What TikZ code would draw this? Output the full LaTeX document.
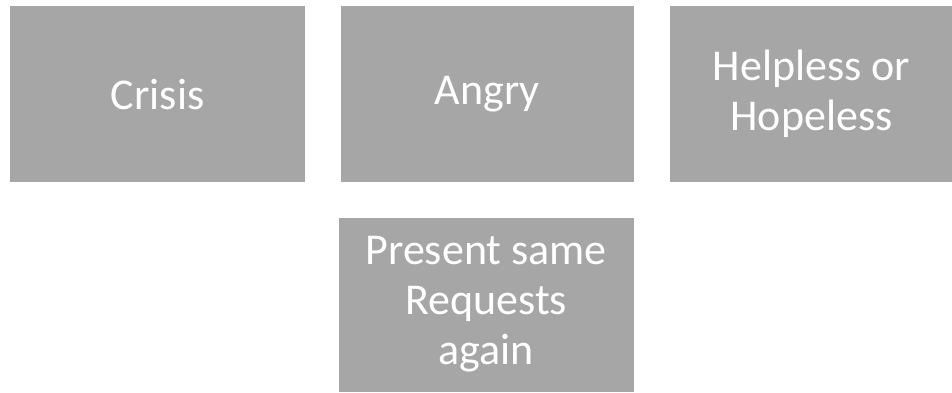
\documentclass[tikz,border=0pt]{standalone}
\usepackage{fontspec}
\setmainfont{Carlito}
\usetikzlibrary{positioning}

\begin{document}
\begin{tikzpicture}[x=1pt,y=1pt,
  card/.style={rectangle, fill=black!35, text=white, minimum width=295pt, minimum height=176pt, align=center, inner sep=0pt, font=\fontsize{44}{50}\selectfont}
]
\useasboundingbox (0,0) rectangle (952,-392);
\node[card, anchor=north west] (crisis) at (10,-6) {Crisis};
\node[card, right=35pt of crisis, minimum width=293pt] (angry) {Angry};
\node[card, right=36pt of angry, minimum width=283pt] (hopeless) {Helpless or\\Hopeless};
\node[card, below=35pt of angry.south east, anchor=north east, minimum height=174pt] (requests) {Present same\\Requests\\again};
\end{tikzpicture}
\end{document}
